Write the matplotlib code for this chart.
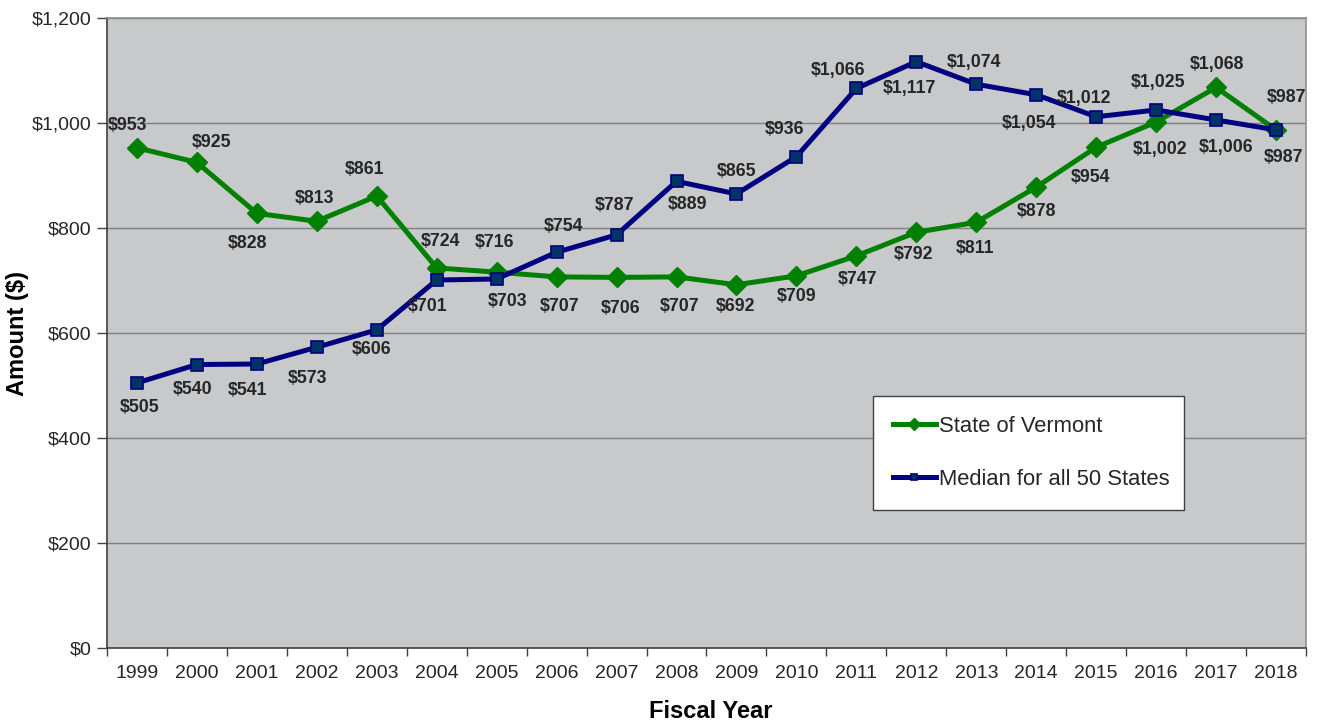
import matplotlib.pyplot as plt
from matplotlib.ticker import FuncFormatter, MultipleLocator

plt.rcParams['font.family'] = ['Liberation Sans', 'DejaVu Sans']

# Data
years = [str(y) for y in range(1999, 2019)]
vermont = [953, 925, 828, 813, 861, 724, 716, 707, 706, 707,
           692, 709, 747, 792, 811, 878, 954, 1002, 1068, 987]
median_50 = [505, 540, 541, 573, 606, 701, 703, 754, 787, 889,
             865, 936, 1066, 1117, 1074, 1054, 1012, 1025, 1006, 987]

# Label offsets in pixels (dx, dy)
vt_offsets = [(-9, 22), (15, 20), (-9, -30), (-2, 23), (-12, 27), (4, 26), (-2, 30),
              (3, -30), (4, -31), (3, -30), (-1, -22), (0, -21), (1, -24), (-3, -22),
              (-1, -26), (0, -24), (-6, -30), (4, -27), (1, 23), (7, -28)]
md_offsets = [(3, -25), (-4, -25), (-9, -26), (-9, -31), (-5, -20), (-9, -26), (11, -23),
              (7, 26), (-2, 29), (11, -23), (0, 22), (-12, 27), (-18, 18), (-7, -27),
              (-2, 22), (-7, -29), (-12, 18), (2, 27), (10, -28), (10, 32)]

GREEN = '#008000'
NAVY = '#000080'
TEXT = '#262626'

fig = plt.figure(figsize=(13.22, 7.24), dpi=100)
ax = fig.add_axes([0.0809, 0.105, 0.907, 0.870])
ax.set_facecolor('#C8C9CB')

x = list(range(len(years)))
ax.plot(x, vermont, color=GREEN, lw=3.6, marker='D', ms=10,
        mfc=GREEN, mec=GREEN, label='State of Vermont', zorder=3)
ax.plot(x, median_50, color=NAVY, lw=3.6, marker='s', ms=8,
        mfc='#003366', mec=NAVY, mew=1.2, label='Median for all 50 States', zorder=4)

for xi, v, (dx, dy) in zip(x, vermont, vt_offsets):
    ax.annotate(f'${v:,}', (xi, v), xytext=(dx, dy), textcoords='offset pixels',
                ha='center', va='center', fontsize=12.8, fontweight='bold',
                color=TEXT, zorder=5)
for xi, v, (dx, dy) in zip(x, median_50, md_offsets):
    ax.annotate(f'${v:,}', (xi, v), xytext=(dx, dy), textcoords='offset pixels',
                ha='center', va='center', fontsize=12.8, fontweight='bold',
                color=TEXT, zorder=5)

ax.set_xlim(-0.5, len(years) - 0.5)
ax.set_ylim(0, 1200)
ax.yaxis.set_major_locator(MultipleLocator(200))
ax.yaxis.set_major_formatter(FuncFormatter(lambda v, p: f'${v:,.0f}'))
ax.grid(axis='y', color='#808080', lw=1, zorder=1)
ax.set_axisbelow(True)

ax.set_xticks(x)
ax.set_xticklabels(years)
ax.set_xticks([i - 0.5 for i in range(len(years) + 1)], minor=True)
ax.tick_params(axis='x', which='major', length=0, pad=12, labelsize=14, colors=TEXT)
ax.tick_params(axis='x', which='minor', length=6, width=1, color='#404040')
ax.tick_params(axis='y', length=7, width=1, color='#404040', labelsize=14,
               labelcolor=TEXT, pad=4)

for s in ['left', 'bottom']:
    ax.spines[s].set_color('#404040')
    ax.spines[s].set_linewidth(1.2)
for s in ['top', 'right']:
    ax.spines[s].set_color('#909090')
    ax.spines[s].set_linewidth(1.2)

fig.text(0.0136, 0.54, 'Amount ($)', rotation=90, ha='center', va='center',
         fontsize=17, fontweight='bold', color='black')
fig.text(0.538, 0.0166, 'Fiscal Year', ha='center', va='center',
         fontsize=17, fontweight='bold', color='black')

leg = ax.legend(loc='center', bbox_to_anchor=(0.639, 0.221, 0.259, 0.177),
                mode='expand', fontsize=15.8, frameon=True, fancybox=False,
                handlelength=1.95, handletextpad=0.15, labelspacing=1.45,
                borderpad=0.9, borderaxespad=0, markerscale=0.6)
leg.get_frame().set_edgecolor('#404040')
leg.get_frame().set_linewidth(1)
leg.get_frame().set_facecolor('white')
leg.get_frame().set_alpha(1)
for t in leg.get_texts():
    t.set_color(TEXT)

fig.savefig('out.png', dpi=100)
